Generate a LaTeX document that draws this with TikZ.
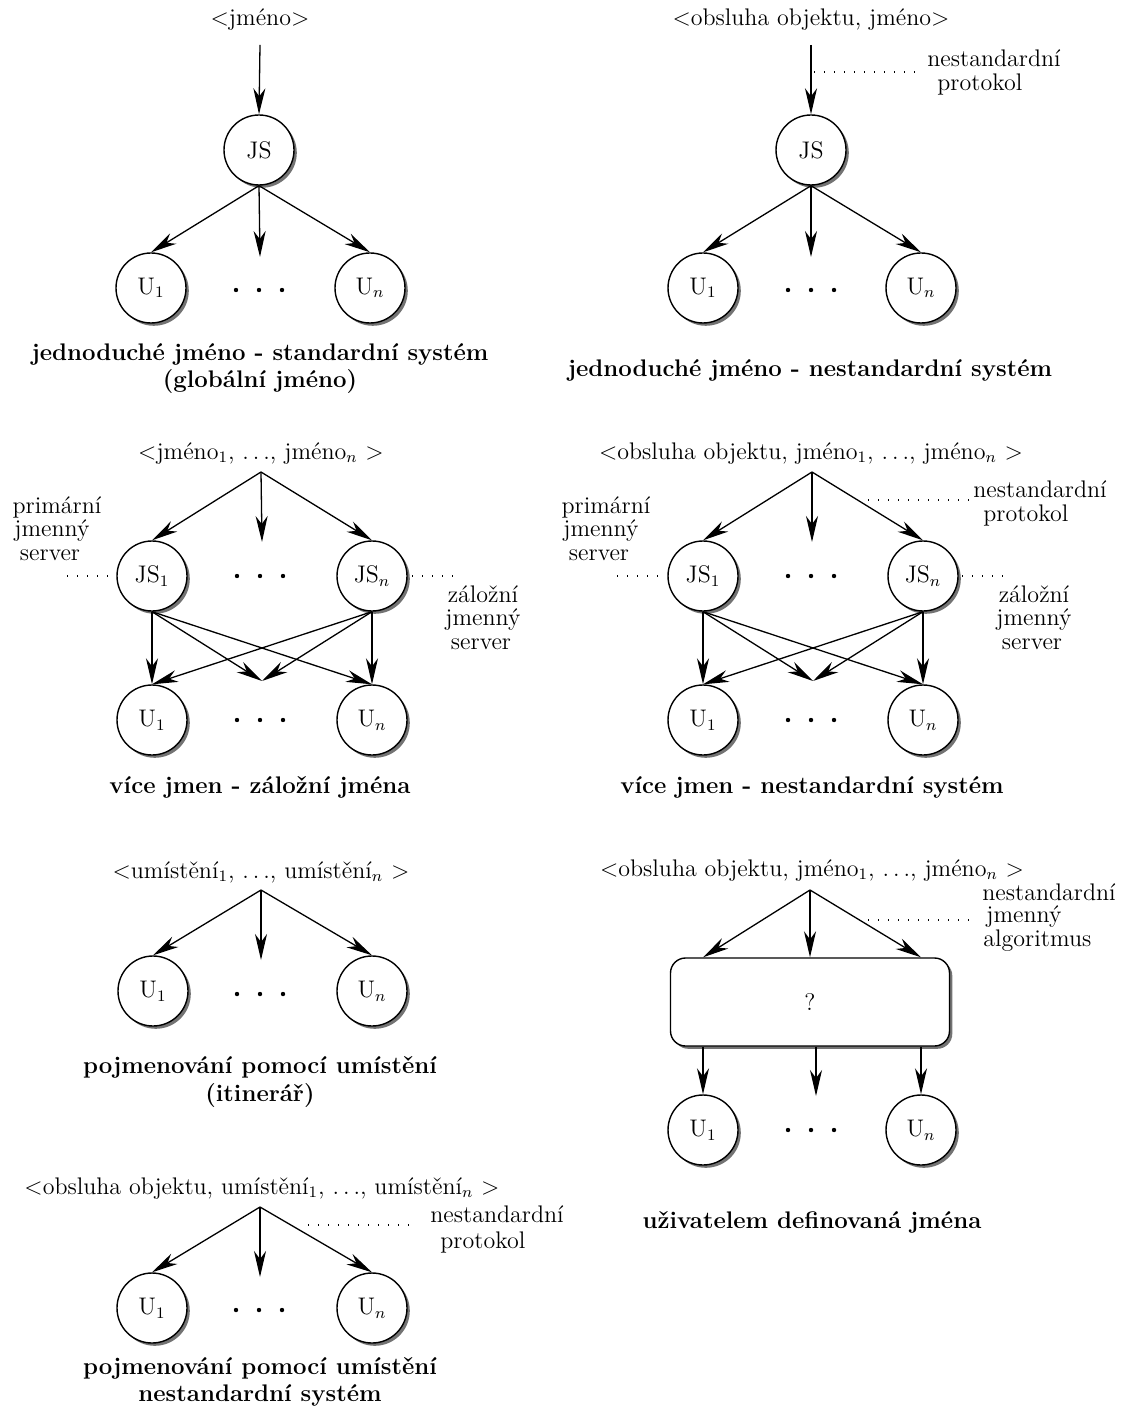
\documentclass[tikz,border=0pt]{standalone}
\usetikzlibrary{arrows.meta,shadows}
\begin{document}
\begin{tikzpicture}[x=0.5pt,y=-0.5pt,
  every node/.style={font=\fontsize{12}{14.4}\selectfont},
  srv/.style={circle, draw, line width=0.7pt, fill=white, minimum size=35pt, inner sep=0pt,
    drop shadow={shadow xshift=1.4pt, shadow yshift=-1.4pt, fill=black!55, opacity=1}},
  qbox/.style={rectangle, rounded corners=7.5pt, draw, line width=0.7pt, fill=white,
    minimum width=139.5pt, minimum height=44pt, inner sep=0pt,
    drop shadow={shadow xshift=1.4pt, shadow yshift=-1.4pt, fill=black!55, opacity=1}},
  arr/.style={-{Stealth[length=13pt,width=6pt,inset=4pt]}, line width=0.65pt},
  lead/.style={line width=0.6pt, dash pattern=on 0.6pt off 4.4pt},
  lbl/.style={anchor=base, inner sep=0pt},
  lblw/.style={anchor=base west, inner sep=0pt},
  captxt/.style={anchor=base, inner sep=0pt, font=\fontsize{12}{14.4}\selectfont\bfseries},
  dot/.style={fill=black}
]
\useasboundingbox (0,0) rectangle (1123,1416);

% ---------- simple name, standard system ----------
\node[lbl] (t1) at (260,26) {$<$jméno$>$};
\coordinate (s1) at (260,45);
\node[srv] (js1) at (259,150) {JS};
\node[srv] (u11) at (151,288) {U$_1$};
\node[srv] (u1n) at (370,288) {U$_n$};
\coordinate (m1) at (260,257);
\foreach \x in {236,259,282} \fill[dot] (\x,290) circle (1.1pt);
\draw[arr] (s1) -- (js1.north);
\draw[arr] (js1.south) -- (u11.north);
\draw[arr] (js1.south) -- (m1);
\draw[arr] (js1.south) -- (u1n.north);
\node[captxt] (c1a) at (260,361) {jednoduché jméno - standardní systém};
\node[captxt] (c1b) at (260,388) {(globální jméno)};

% ---------- simple name, non-standard system ----------
\node[lbl] (t2) at (811,26) {$<$obsluha objektu, jméno$>$};
\coordinate (s2) at (811,45);
\node[srv] (js2) at (811,150) {JS};
\node[srv] (u21) at (703,288) {U$_1$};
\node[srv] (u2n) at (921,288) {U$_n$};
\coordinate (m2) at (811,257);
\foreach \x in {788,811,834} \fill[dot] (\x,290) circle (1.1pt);
\draw[arr] (s2) -- (js2.north);
\draw[arr] (js2.south) -- (u21.north);
\draw[arr] (js2.south) -- (m2);
\draw[arr] (js2.south) -- (u2n.north);
\coordinate (l2a) at (814,72);
\coordinate (l2b) at (918,72);
\draw[lead] (l2a) -- (l2b);
\node[lblw] (n2a) at (927,67) {nestandardní};
\node[lblw] (n2b) at (937,91) {protokol};
\node[captxt] (c2) at (810,377) {jednoduché jméno - nestandardní systém};

% ---------- several names, backup names ----------
\node[lbl] (t3) at (261,459) {$<$jméno$_1$, $\ldots$, jméno$_n$ $>$};
\coordinate (s3) at (261,472);
\node[srv] (js31) at (152,576) {JS$_1$};
\node[srv] (js3n) at (372,576) {JS$_n$};
\coordinate (m3a) at (262,542);
\foreach \x in {237,260,283} \fill[dot] (\x,576) circle (1.1pt);
\node[srv] (u31) at (152,720) {U$_1$};
\node[srv] (u3n) at (372,720) {U$_n$};
\coordinate (m3b) at (262,681);
\foreach \x in {237,260,283} \fill[dot] (\x,720) circle (1.1pt);
\draw[arr] (s3) -- (js31.north);
\draw[arr] (s3) -- (m3a);
\draw[arr] (s3) -- (js3n.north);
\foreach \src in {js31,js3n}{
  \draw[arr] (\src.south) -- (u31.north);
  \draw[arr] (\src.south) -- (m3b);
  \draw[arr] (\src.south) -- (u3n.north);
}
\coordinate (l3a) at (67,576);
\coordinate (l3b) at (110,576);
\draw[lead] (l3a) -- (l3b);
\coordinate (l3c) at (412,576);
\coordinate (l3d) at (453,576);
\draw[lead] (l3c) -- (l3d);
\node[lbl] (p3a) at (57,513) {primární};
\node[lbl] (p3b) at (52,536) {jmenný};
\node[lbl] (p3c) at (50,560) {server};
\node[lbl] (z3a) at (483,602) {záložní};
\node[lbl] (z3b) at (483,625) {jmenný};
\node[lbl] (z3c) at (481,649) {server};
\node[captxt] (c3) at (260,793) {více jmen - záložní jména};

% ---------- several names, non-standard system ----------
\node[lbl] (t4) at (811,459) {$<$obsluha objektu, jméno$_1$, $\ldots$, jméno$_n$ $>$};
\coordinate (s4) at (812,472);
\node[srv] (js41) at (703,576) {JS$_1$};
\node[srv] (js4n) at (923,576) {JS$_n$};
\coordinate (m4a) at (812,542);
\foreach \x in {788,811,834} \fill[dot] (\x,576) circle (1.1pt);
\node[srv] (u41) at (703,720) {U$_1$};
\node[srv] (u4n) at (923,720) {U$_n$};
\coordinate (m4b) at (813,681);
\foreach \x in {788,811,834} \fill[dot] (\x,720) circle (1.1pt);
\draw[arr] (s4) -- (js41.north);
\draw[arr] (s4) -- (m4a);
\draw[arr] (s4) -- (js4n.north);
\foreach \src in {js41,js4n}{
  \draw[arr] (\src.south) -- (u41.north);
  \draw[arr] (\src.south) -- (m4b);
  \draw[arr] (\src.south) -- (u4n.north);
}
\coordinate (l4a) at (617,576);
\coordinate (l4b) at (660,576);
\draw[lead] (l4a) -- (l4b);
\coordinate (l4c) at (962,576);
\coordinate (l4d) at (1004,576);
\draw[lead] (l4c) -- (l4d);
\coordinate (l4e) at (868,500);
\coordinate (l4f) at (970,500);
\draw[lead] (l4e) -- (l4f);
\node[lblw] (n4a) at (973,497) {nestandardní};
\node[lblw] (n4b) at (983,521) {protokol};
\node[lbl] (p4a) at (606,513) {primární};
\node[lbl] (p4b) at (601,536) {jmenný};
\node[lbl] (p4c) at (599,560) {server};
\node[lbl] (z4a) at (1034,602) {záložní};
\node[lbl] (z4b) at (1034,625) {jmenný};
\node[lbl] (z4c) at (1032,649) {server};
\node[captxt] (c4) at (812,793) {více jmen - nestandardní systém};

% ---------- naming by location ----------
\node[lbl] (t5) at (261,878) {$<$umístění$_1$, $\ldots$, umístění$_n$ $>$};
\coordinate (s5) at (261,890);
\node[srv] (u51) at (153,991) {U$_1$};
\node[srv] (u5n) at (372,991) {U$_n$};
\coordinate (m5) at (261,960);
\foreach \x in {237,260,283} \fill[dot] (\x,994) circle (1.1pt);
\draw[arr] (s5) -- (u51.north);
\draw[arr] (s5) -- (m5);
\draw[arr] (s5) -- (u5n.north);
\node[captxt] (c5a) at (260,1073) {pojmenování pomocí umístění};
\node[captxt] (c5b) at (260,1101) {(itinerář)};

% ---------- user-defined names ----------
\node[lbl] (t6) at (812,876) {$<$obsluha objektu, jméno$_1$, $\ldots$, jméno$_n$ $>$};
\coordinate (s6) at (810,890);
\node[qbox] (q6) at (810,1002) {?};
\node[srv] (u61) at (703,1130) {U$_1$};
\node[srv] (u6n) at (921,1130) {U$_n$};
\coordinate (m6) at (816,1096);
\foreach \x in {788,811,834} \fill[dot] (\x,1130) circle (1.1pt);
\draw[arr] (s6) -- (u61 |- q6.north);
\draw[arr] (s6) -- (q6.north);
\draw[arr] (s6) -- (u6n |- q6.north);
\draw[arr] (u61 |- q6.south) -- (u61.north);
\draw[arr] (m6 |- q6.south) -- (m6);
\draw[arr] (u6n |- q6.south) -- (u6n.north);
\coordinate (l6a) at (868,920);
\coordinate (l6b) at (970,920);
\draw[lead] (l6a) -- (l6b);
\node[lblw] (n6a) at (982,900) {nestandardní};
\node[lblw] (n6b) at (986,922) {jmenný};
\node[lblw] (n6c) at (983,946) {algoritmus};
\node[captxt] (c6) at (812,1228) {uživatelem definovaná jména};

% ---------- naming by location, non-standard system ----------
\node[lbl] (t7) at (262,1194) {$<$obsluha objektu, umístění$_1$, $\ldots$, umístění$_n$ $>$};
\coordinate (s7) at (260,1207);
\node[srv] (u71) at (152,1308) {U$_1$};
\node[srv] (u7n) at (372,1308) {U$_n$};
\coordinate (m7) at (260,1277);
\foreach \x in {236,259,282} \fill[dot] (\x,1310) circle (1.1pt);
\draw[arr] (s7) -- (u71.north);
\draw[arr] (s7) -- (m7);
\draw[arr] (s7) -- (u7n.north);
\coordinate (l7a) at (308,1225);
\coordinate (l7b) at (410,1225);
\draw[lead] (l7a) -- (l7b);
\node[lblw] (n7a) at (430,1222) {nestandardní};
\node[lblw] (n7b) at (440,1248) {protokol};
\node[captxt] (c7a) at (260,1374) {pojmenování pomocí umístění};
\node[captxt] (c7b) at (260,1401) {nestandardní systém};
\end{tikzpicture}
\end{document}
